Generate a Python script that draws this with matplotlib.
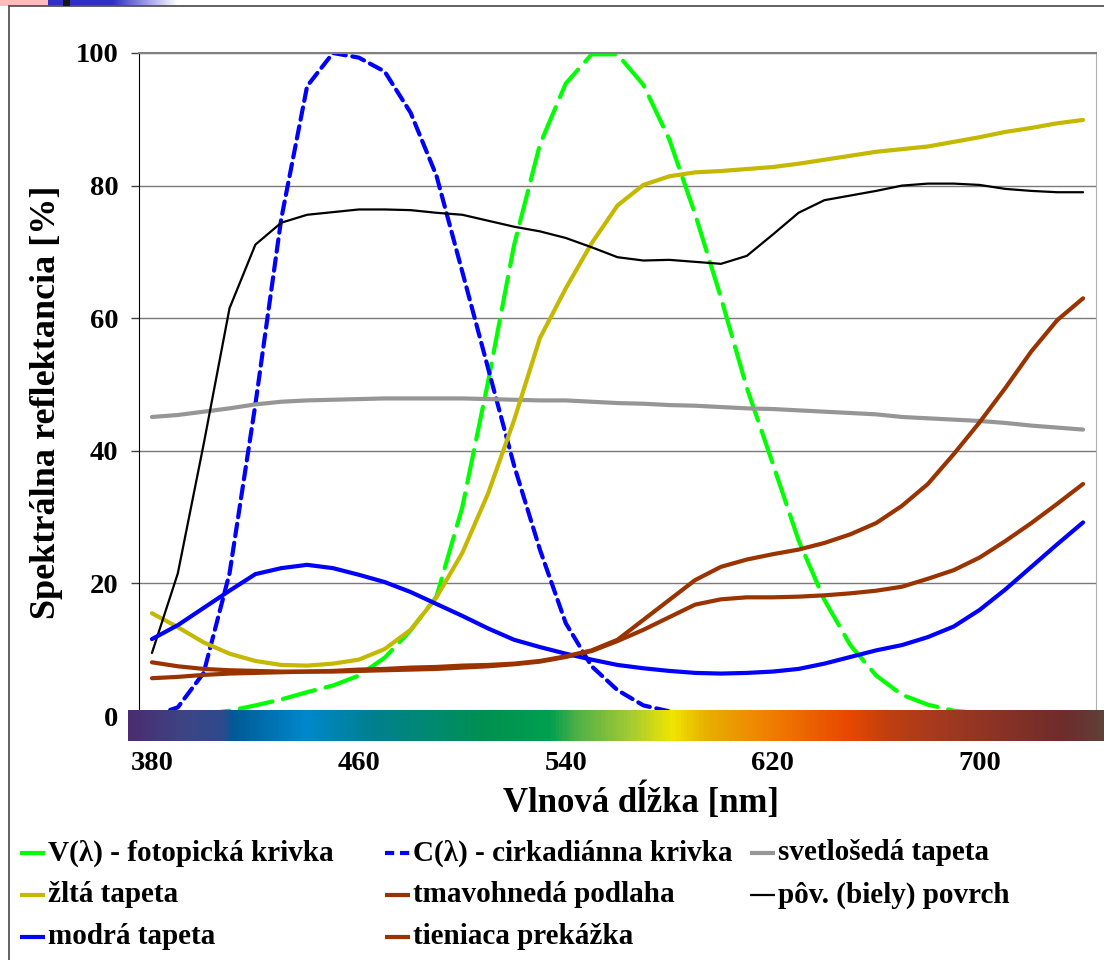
import matplotlib

matplotlib.use("Agg")
import matplotlib.pyplot as plt
import numpy as np
from matplotlib.colors import LinearSegmentedColormap
from matplotlib.lines import Line2D
from matplotlib.patches import Rectangle

plt.rcParams["font.family"] = ["Liberation Serif", "DejaVu Serif"]
plt.rcParams["font.weight"] = "bold"

# wavelengths [nm], one category every 10 nm
wavelength = [380, 390, 400, 410, 420, 430, 440, 450, 460, 470, 480, 490, 500,
              510, 520, 530, 540, 550, 560, 570, 580, 590, 600, 610, 620, 630,
              640, 650, 660, 670, 680, 690, 700, 710, 720, 730, 740]
tick_labels = ["380", "460", "540", "620", "700"]

# spectral values [%]
v_lambda = [0.0, 0.1, 0.3, 0.8, 1.6, 2.5, 3.6, 4.6, 6.1, 8.8, 12.9, 18.0, 31.5,
            50.5, 71.0, 86.2, 95.4, 99.8, 99.8, 95.2, 87.0, 75.7, 63.1, 49.5,
            38.1, 26.5, 17.5, 10.7, 6.1, 3.2, 1.7, 0.8, 0.4, 0.2, 0.1, 0.05, 0.02]
c_lambda = [0.0, 1.3, 6.5, 21.5, 47.0, 75.0, 95.0, 100.0, 99.3, 97.2, 91.0,
            81.5, 67.0, 52.4, 37.8, 25.1, 14.0, 7.5, 3.9, 1.6, 0.7, 0.3, 0.1,
            0.0, 0.0, 0.0, 0.0, 0.0, 0.0, 0.0, 0.0, 0.0, 0.0, 0.0, 0.0, 0.0, 0.0]
light_grey = [45.1, 45.4, 45.9, 46.4, 47.0, 47.4, 47.6, 47.7, 47.8, 47.9, 47.9,
              47.9, 47.9, 47.8, 47.7, 47.6, 47.6, 47.4, 47.2, 47.1, 46.9, 46.8,
              46.6, 46.4, 46.3, 46.1, 45.9, 45.7, 45.5, 45.1, 44.9, 44.7, 44.5,
              44.2, 43.8, 43.5, 43.2]
yellow = [15.5, 13.4, 11.1, 9.4, 8.3, 7.7, 7.6, 7.9, 8.5, 10.1, 13.0, 17.9,
          24.6, 33.6, 44.6, 57.0, 64.5, 71.3, 77.0, 80.1, 81.4, 82.0, 82.2,
          82.5, 82.8, 83.3, 83.9, 84.5, 85.1, 85.5, 85.9, 86.6, 87.3, 88.1,
          88.7, 89.4, 89.9]
brown_floor = [8.1, 7.5, 7.1, 6.9, 6.8, 6.7, 6.7, 6.7, 6.8, 6.9, 7.0, 7.1, 7.3,
               7.5, 7.8, 8.2, 8.9, 9.8, 11.3, 13.0, 14.9, 16.8, 17.6, 17.9,
               17.9, 18.0, 18.2, 18.5, 18.9, 19.5, 20.7, 22.0, 23.9, 26.4, 29.1,
               32.0, 35.0]
white_surface = [9.5, 21.5, 41.0, 61.5, 71.1, 74.4, 75.6, 76.0, 76.4, 76.4,
                 76.3, 75.9, 75.6, 74.7, 73.8, 73.1, 72.1, 70.7, 69.2, 68.7,
                 68.8, 68.5, 68.2, 69.4, 72.6, 75.9, 77.8, 78.5, 79.2, 80.0,
                 80.3, 80.3, 80.1, 79.5, 79.2, 79.0, 79.0]
blue = [11.6, 13.7, 16.3, 18.9, 21.4, 22.3, 22.8, 22.3, 21.3, 20.2, 18.7, 16.9,
        15.1, 13.2, 11.5, 10.4, 9.4, 8.5, 7.7, 7.2, 6.8, 6.5, 6.4, 6.5, 6.7,
        7.1, 7.9, 8.9, 9.9, 10.7, 11.9, 13.5, 16.0, 19.1, 22.5, 25.9, 29.2]
shading = [5.7, 5.9, 6.2, 6.4, 6.5, 6.6, 6.7, 6.8, 7.0, 7.1, 7.3, 7.4, 7.6, 7.7,
           7.9, 8.3, 9.0, 9.9, 11.5, 14.5, 17.5, 20.5, 22.5, 23.6, 24.4, 25.1,
           26.1, 27.4, 29.1, 31.7, 35.0, 39.5, 44.3, 49.5, 55.0, 59.7, 63.0]

GREEN = "#00ff00"
BLUE = "#0000ff"
GREY = "#969696"
YELLOW = "#c4b800"
BROWN = "#993300"
C_DASH = (0, (3, 1.6))

series = [
    ("V(λ) - fotopická krivka", v_lambda, GREEN, 3.0, (0, (8, 2.6))),
    ("C(λ) - cirkadiánna krivka", c_lambda, BLUE, 3.0, C_DASH),
    ("svetlošedá tapeta", light_grey, GREY, 3.0, "-"),
    ("žltá tapeta", yellow, YELLOW, 3.0, "-"),
    ("tmavohnedá podlaha", brown_floor, BROWN, 3.0, "-"),
    ("pôv. (biely) povrch", white_surface, "black", 1.6, "-"),
    ("modrá tapeta", blue, BLUE, 3.0, "-"),
    ("tieniaca prekážka", shading, BROWN, 3.0, "-"),
]

W, H = 1104, 960
fig = plt.figure(figsize=(W / 100, H / 100), dpi=100)


def fx(px):
    return px / W


def fy(py):
    return 1 - py / H


# slide decoration + outer frame
fig.add_artist(Rectangle((0, fy(6)), fx(48), 6 / H, transform=fig.transFigure,
                         color="#ffbaba", lw=0))
grad = np.linspace(0, 1, 200).reshape(1, -1)
deco = fig.add_axes([fx(48), fy(6), fx(130), 6 / H])
deco.imshow(grad, aspect="auto",
            cmap=LinearSegmentedColormap.from_list("d", ["#3030c8", "#3030c8", "#ffffff"]))
deco.axis("off")
fig.add_artist(Rectangle((fx(63), fy(6)), fx(7), 6 / H, transform=fig.transFigure,
                         color="#151515", lw=0, zorder=5))
fig.add_artist(Line2D([fx(9), 1], [fy(6), fy(6)], color="#555555", lw=1.3))
fig.add_artist(Line2D([fx(9), fx(9)], [fy(6), 0], color="#555555", lw=1.3))

ax = fig.add_axes([fx(139), fy(716), fx(1096 - 139), (716 - 53) / H])
x = np.arange(len(wavelength))
for label, vals, color, lw, ls in series:
    ax.plot(x, vals, color=color, lw=lw, ls=ls, label=label,
            solid_capstyle="round", dash_capstyle="round", solid_joinstyle="round")

ax.set_xlim(-0.5, len(wavelength) - 0.5)
ax.set_ylim(0, 100)
ax.set_yticks([0, 20, 40, 60, 80, 100])
ax.set_yticklabels(["0", "20", "40", "60", "80", "100"], fontsize=20.5)
ax.tick_params(axis="y", length=6, width=1, pad=9, color="#404040")
tick_idx = [wavelength.index(int(t)) for t in tick_labels]
ax.set_xticks(tick_idx)
ax.set_xticklabels(tick_labels, fontsize=20.5)
ax.tick_params(axis="x", length=0, pad=25)
ax.grid(axis="y", color="#7a7a7a", lw=1)
ax.spines["left"].set_color("black")
ax.spines["right"].set_color("#b0b0b0")
ax.spines["top"].set_color("#808080")
ax.spines["top"].set_linewidth(1.5)
ax.spines["bottom"].set_visible(False)

# colour spectrum strip under the plot
spec_cmap = LinearSegmentedColormap.from_list("spectrum", [
    (0.0, "#4a2d70"), (0.056, "#3d4585"), (0.096, "#2e4a8e"), (0.105, "#005a96"),
    (0.18, "#0088cc"), (0.249, "#00808f"), (0.3125, "#008a70"), (0.364, "#009050"),
    (0.432, "#00a050"), (0.46, "#50b048"), (0.517, "#a8cc30"), (0.558, "#f0e600"),
    (0.593, "#e8b000"), (0.655, "#f08000"), (0.74, "#e84800"), (0.78, "#c04010"),
    (0.842, "#a03820"), (0.962, "#6e2c2c"), (1.0, "#604038"),
])
bar = fig.add_axes([fx(128), fy(741), 1 - fx(128), 31 / H])
bar.imshow(np.linspace(0, 1, 600).reshape(1, -1), aspect="auto", cmap=spec_cmap)
bar.axis("off")

fig.text(fx(641), fy(801), "Vlnová dĺžka [nm]", fontsize=25, ha="center", va="center")
fig.text(fx(47), fy(402), "Spektrálna reflektancia [%]", fontsize=26,
         rotation=90, ha="center", va="center")

# legend, 3 columns x 3 rows, filled row by row
for i, (label, vals, color, lw, ls) in enumerate(series):
    row, col = divmod(i, 3)
    lx = 20 + col * 365
    ly = 853 + row * 42
    fig.add_artist(Line2D([fx(lx), fx(lx + 25)], [fy(ly), fy(ly)], color=color,
                          lw=lw, ls=(0, (2.2, 1.4)) if ls == C_DASH else "-",
                          solid_capstyle="butt"))
    fig.text(fx(lx + 28), fy(ly), label, fontsize=21, ha="left", va="center")

fig.savefig("out.png", dpi=100)
